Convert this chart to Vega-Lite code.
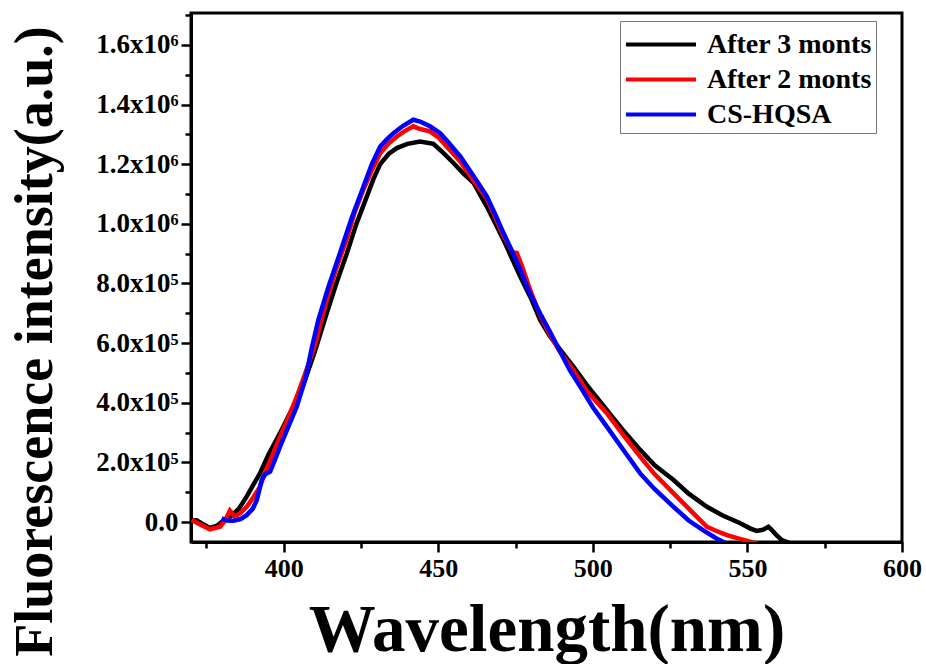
{
  "$schema": "https://vega.github.io/schema/vega-lite/v6.json",
  "width": 711,
  "height": 529,
  "autosize": {"type": "none"},
  "padding": {"left": 191, "top": 13, "right": 24, "bottom": 122},
  "background": "white",
  "config": {
    "view": {"stroke": "black", "strokeWidth": 3},
    "font": "Liberation Serif"
  },
  "data": {
    "values": [
      {"s": "After 3 monts", "x": 370.3, "y": 5000},
      {"s": "After 3 monts", "x": 371.8, "y": 6000},
      {"s": "After 3 monts", "x": 373.5, "y": -5000},
      {"s": "After 3 monts", "x": 376, "y": -20000},
      {"s": "After 3 monts", "x": 378.5, "y": -12000},
      {"s": "After 3 monts", "x": 380.5, "y": 5000},
      {"s": "After 3 monts", "x": 383, "y": 20000},
      {"s": "After 3 monts", "x": 385.5, "y": 45000},
      {"s": "After 3 monts", "x": 388, "y": 85000},
      {"s": "After 3 monts", "x": 390, "y": 122000},
      {"s": "After 3 monts", "x": 392.3, "y": 163000},
      {"s": "After 3 monts", "x": 395, "y": 225000},
      {"s": "After 3 monts", "x": 398.8, "y": 298000},
      {"s": "After 3 monts", "x": 401.5, "y": 355000},
      {"s": "After 3 monts", "x": 404.2, "y": 409000},
      {"s": "After 3 monts", "x": 407, "y": 480000},
      {"s": "After 3 monts", "x": 410, "y": 570000},
      {"s": "After 3 monts", "x": 413.9, "y": 700000},
      {"s": "After 3 monts", "x": 417, "y": 800000},
      {"s": "After 3 monts", "x": 420.4, "y": 900000},
      {"s": "After 3 monts", "x": 423.5, "y": 1000000},
      {"s": "After 3 monts", "x": 426.9, "y": 1092000},
      {"s": "After 3 monts", "x": 429, "y": 1150000},
      {"s": "After 3 monts", "x": 431.2, "y": 1200000},
      {"s": "After 3 monts", "x": 434, "y": 1235000},
      {"s": "After 3 monts", "x": 436.6, "y": 1254000},
      {"s": "After 3 monts", "x": 440, "y": 1268000},
      {"s": "After 3 monts", "x": 444.1, "y": 1276000},
      {"s": "After 3 monts", "x": 448.4, "y": 1268000},
      {"s": "After 3 monts", "x": 451.7, "y": 1237000},
      {"s": "After 3 monts", "x": 454.9, "y": 1204000},
      {"s": "After 3 monts", "x": 458, "y": 1170000},
      {"s": "After 3 monts", "x": 461.4, "y": 1137000},
      {"s": "After 3 monts", "x": 465.7, "y": 1058000},
      {"s": "After 3 monts", "x": 468.5, "y": 1000000},
      {"s": "After 3 monts", "x": 471.1, "y": 946000},
      {"s": "After 3 monts", "x": 474, "y": 880000},
      {"s": "After 3 monts", "x": 476.5, "y": 823000},
      {"s": "After 3 monts", "x": 480, "y": 750000},
      {"s": "After 3 monts", "x": 482.9, "y": 678000},
      {"s": "After 3 monts", "x": 486, "y": 625000},
      {"s": "After 3 monts", "x": 489.4, "y": 578000},
      {"s": "After 3 monts", "x": 493.7, "y": 521000},
      {"s": "After 3 monts", "x": 498, "y": 460000},
      {"s": "After 3 monts", "x": 504.5, "y": 376000},
      {"s": "After 3 monts", "x": 510, "y": 305000},
      {"s": "After 3 monts", "x": 515.3, "y": 242000},
      {"s": "After 3 monts", "x": 520, "y": 190000},
      {"s": "After 3 monts", "x": 526.1, "y": 141000},
      {"s": "After 3 monts", "x": 531, "y": 95000},
      {"s": "After 3 monts", "x": 536.9, "y": 51000},
      {"s": "After 3 monts", "x": 542, "y": 22000},
      {"s": "After 3 monts", "x": 547.7, "y": -4000},
      {"s": "After 3 monts", "x": 551, "y": -22000},
      {"s": "After 3 monts", "x": 553, "y": -30000},
      {"s": "After 3 monts", "x": 555, "y": -26000},
      {"s": "After 3 monts", "x": 556.8, "y": -16000},
      {"s": "After 3 monts", "x": 558, "y": -28000},
      {"s": "After 3 monts", "x": 559.5, "y": -45000},
      {"s": "After 3 monts", "x": 561, "y": -60000},
      {"s": "After 3 monts", "x": 563, "y": -68000},
      {"s": "After 3 monts", "x": 566, "y": -78000},

      {"s": "After 2 monts", "x": 370.2, "y": 6700},
      {"s": "After 2 monts", "x": 373, "y": -8000},
      {"s": "After 2 monts", "x": 376.1, "y": -24500},
      {"s": "After 2 monts", "x": 379.4, "y": -15700},
      {"s": "After 2 monts", "x": 381, "y": 5000},
      {"s": "After 2 monts", "x": 382.6, "y": 38000},
      {"s": "After 2 monts", "x": 384.2, "y": 18000},
      {"s": "After 2 monts", "x": 386, "y": 30000},
      {"s": "After 2 monts", "x": 388, "y": 51000},
      {"s": "After 2 monts", "x": 390, "y": 80000},
      {"s": "After 2 monts", "x": 392.3, "y": 118000},
      {"s": "After 2 monts", "x": 393.4, "y": 152000},
      {"s": "After 2 monts", "x": 396, "y": 215000},
      {"s": "After 2 monts", "x": 398.8, "y": 286000},
      {"s": "After 2 monts", "x": 401.5, "y": 350000},
      {"s": "After 2 monts", "x": 404.2, "y": 420000},
      {"s": "After 2 monts", "x": 407, "y": 500000},
      {"s": "After 2 monts", "x": 410, "y": 590000},
      {"s": "After 2 monts", "x": 413.9, "y": 745000},
      {"s": "After 2 monts", "x": 417, "y": 850000},
      {"s": "After 2 monts", "x": 420.4, "y": 950000},
      {"s": "After 2 monts", "x": 423, "y": 1040000},
      {"s": "After 2 monts", "x": 425.8, "y": 1115000},
      {"s": "After 2 monts", "x": 428.5, "y": 1180000},
      {"s": "After 2 monts", "x": 431.2, "y": 1237000},
      {"s": "After 2 monts", "x": 434, "y": 1270000},
      {"s": "After 2 monts", "x": 436.6, "y": 1293000},
      {"s": "After 2 monts", "x": 439, "y": 1310000},
      {"s": "After 2 monts", "x": 441.9, "y": 1327000},
      {"s": "After 2 monts", "x": 444.1, "y": 1318000},
      {"s": "After 2 monts", "x": 447.3, "y": 1310000},
      {"s": "After 2 monts", "x": 450, "y": 1290000},
      {"s": "After 2 monts", "x": 452.7, "y": 1259000},
      {"s": "After 2 monts", "x": 457.1, "y": 1209000},
      {"s": "After 2 monts", "x": 461.4, "y": 1145000},
      {"s": "After 2 monts", "x": 465.7, "y": 1085000},
      {"s": "After 2 monts", "x": 471.1, "y": 960000},
      {"s": "After 2 monts", "x": 474, "y": 905000},
      {"s": "After 2 monts", "x": 475.4, "y": 902000},
      {"s": "After 2 monts", "x": 477, "y": 860000},
      {"s": "After 2 monts", "x": 480, "y": 770000},
      {"s": "After 2 monts", "x": 482.9, "y": 695000},
      {"s": "After 2 monts", "x": 486, "y": 630000},
      {"s": "After 2 monts", "x": 489.4, "y": 570000},
      {"s": "After 2 monts", "x": 493.7, "y": 510000},
      {"s": "After 2 monts", "x": 498, "y": 440000},
      {"s": "After 2 monts", "x": 504.5, "y": 365000},
      {"s": "After 2 monts", "x": 510, "y": 290000},
      {"s": "After 2 monts", "x": 515.3, "y": 219000},
      {"s": "After 2 monts", "x": 520, "y": 160000},
      {"s": "After 2 monts", "x": 526.1, "y": 96000},
      {"s": "After 2 monts", "x": 531, "y": 45000},
      {"s": "After 2 monts", "x": 536.9, "y": -16000},
      {"s": "After 2 monts", "x": 540, "y": -30000},
      {"s": "After 2 monts", "x": 543.4, "y": -44000},
      {"s": "After 2 monts", "x": 547, "y": -55000},
      {"s": "After 2 monts", "x": 550, "y": -63000},
      {"s": "After 2 monts", "x": 554, "y": -75000},

      {"s": "CS-HQSA", "x": 379.9, "y": 12000},
      {"s": "CS-HQSA", "x": 381.5, "y": 5000},
      {"s": "CS-HQSA", "x": 383.7, "y": 4000},
      {"s": "CS-HQSA", "x": 386, "y": 10000},
      {"s": "CS-HQSA", "x": 388, "y": 23000},
      {"s": "CS-HQSA", "x": 390, "y": 45000},
      {"s": "CS-HQSA", "x": 391.3, "y": 74000},
      {"s": "CS-HQSA", "x": 392.9, "y": 141000},
      {"s": "CS-HQSA", "x": 394, "y": 160000},
      {"s": "CS-HQSA", "x": 395.6, "y": 169000},
      {"s": "CS-HQSA", "x": 397, "y": 205000},
      {"s": "CS-HQSA", "x": 398.8, "y": 253000},
      {"s": "CS-HQSA", "x": 401.5, "y": 320000},
      {"s": "CS-HQSA", "x": 404.2, "y": 387000},
      {"s": "CS-HQSA", "x": 407, "y": 480000},
      {"s": "CS-HQSA", "x": 409, "y": 580000},
      {"s": "CS-HQSA", "x": 411.2, "y": 678000},
      {"s": "CS-HQSA", "x": 414.5, "y": 790000},
      {"s": "CS-HQSA", "x": 418.2, "y": 902000},
      {"s": "CS-HQSA", "x": 422, "y": 1020000},
      {"s": "CS-HQSA", "x": 425.8, "y": 1125000},
      {"s": "CS-HQSA", "x": 428.5, "y": 1200000},
      {"s": "CS-HQSA", "x": 431.2, "y": 1259000},
      {"s": "CS-HQSA", "x": 433.5, "y": 1285000},
      {"s": "CS-HQSA", "x": 435.5, "y": 1304000},
      {"s": "CS-HQSA", "x": 438.5, "y": 1328000},
      {"s": "CS-HQSA", "x": 441.9, "y": 1349000},
      {"s": "CS-HQSA", "x": 444.1, "y": 1343000},
      {"s": "CS-HQSA", "x": 447.3, "y": 1327000},
      {"s": "CS-HQSA", "x": 450.6, "y": 1304000},
      {"s": "CS-HQSA", "x": 453.5, "y": 1270000},
      {"s": "CS-HQSA", "x": 457.1, "y": 1226000},
      {"s": "CS-HQSA", "x": 461.4, "y": 1160000},
      {"s": "CS-HQSA", "x": 465.7, "y": 1092000},
      {"s": "CS-HQSA", "x": 468.5, "y": 1030000},
      {"s": "CS-HQSA", "x": 471.1, "y": 969000},
      {"s": "CS-HQSA", "x": 474, "y": 905000},
      {"s": "CS-HQSA", "x": 476.5, "y": 846000},
      {"s": "CS-HQSA", "x": 479.5, "y": 770000},
      {"s": "CS-HQSA", "x": 482.9, "y": 700000},
      {"s": "CS-HQSA", "x": 486, "y": 640000},
      {"s": "CS-HQSA", "x": 489.4, "y": 572000},
      {"s": "CS-HQSA", "x": 492.5, "y": 510000},
      {"s": "CS-HQSA", "x": 495.9, "y": 454000},
      {"s": "CS-HQSA", "x": 500, "y": 385000},
      {"s": "CS-HQSA", "x": 504.5, "y": 320000},
      {"s": "CS-HQSA", "x": 510, "y": 240000},
      {"s": "CS-HQSA", "x": 515.3, "y": 163000},
      {"s": "CS-HQSA", "x": 520, "y": 110000},
      {"s": "CS-HQSA", "x": 526.1, "y": 51000},
      {"s": "CS-HQSA", "x": 531, "y": 5000},
      {"s": "CS-HQSA", "x": 536, "y": -30000},
      {"s": "CS-HQSA", "x": 540, "y": -55000},
      {"s": "CS-HQSA", "x": 544, "y": -76000}
    ]
  },
  "mark": {"type": "line", "strokeWidth": 4.5, "clip": true, "interpolate": "linear"},
  "encoding": {
    "x": {
      "field": "x",
      "type": "quantitative",
      "scale": {"domain": [370, 600], "nice": false, "zero": false},
      "axis": {
        "title": "Wavelength(nm)",
        "titleFont": "Liberation Serif",
        "titleFontWeight": "bold",
        "titleFontSize": 67,
        "titleColor": "black",
        "titleBaseline": "middle",
        "titleY": 88,
        "values": [375, 400, 425, 450, 475, 500, 525, 550, 575, 600],
        "labelExpr": "datum.value % 50 === 0 ? datum.label : ''",
        "labelFont": "Liberation Serif",
        "labelFontWeight": "bold",
        "labelFontSize": 26,
        "labelColor": "black",
        "labelPadding": 3,
        "labelFlush": false,
        "labelOverlap": false,
        "grid": false,
        "domainColor": "black",
        "domainWidth": 3,
        "tickColor": "black",
        "tickWidth": 2.5,
        "tickSize": {"condition": {"test": "datum.value % 50 === 0", "value": 10}, "value": 6}
      }
    },
    "y": {
      "field": "y",
      "type": "quantitative",
      "scale": {"domain": [-67000, 1707000], "nice": false, "zero": false},
      "axis": {
        "title": "Fluorescence intensity(a.u.)",
        "titleFont": "Liberation Serif",
        "titleFontWeight": "bold",
        "titleFontSize": 54,
        "titleColor": "black",
        "titleAngle": -90,
        "titleBaseline": "middle",
        "titleX": -156,
        "titleY": 328,
        "values": [0, 100000, 200000, 300000, 400000, 500000, 600000, 700000, 800000, 900000, 1000000, 1100000, 1200000, 1300000, 1400000, 1500000, 1600000, 1700000],
        "labelExpr": "datum.value % 200000 !== 0 ? '' : datum.value === 0 ? '0.0' : datum.value >= 1000000 ? format(datum.value / 1000000, '.1f') + 'x10⁶' : format(datum.value / 100000, '.1f') + 'x10⁵'",
        "labelFont": "Liberation Serif",
        "labelFontWeight": "bold",
        "labelFontSize": 27,
        "labelColor": "black",
        "labelPadding": 3,
        "labelOverlap": false,
        "labelFlush": false,
        "grid": false,
        "domainColor": "black",
        "domainWidth": 3,
        "tickColor": "black",
        "tickWidth": 2.5,
        "tickSize": {"condition": {"test": "datum.value % 200000 === 0", "value": 10}, "value": 6}
      }
    },
    "color": {
      "field": "s",
      "type": "nominal",
      "scale": {"domain": ["After 3 monts", "After 2 monts", "CS-HQSA"], "range": ["#000000", "#ff0000", "#0000ff"]},
      "legend": {
        "title": null,
        "orient": "none",
        "legendX": 429,
        "legendY": 8,
        "strokeColor": "#777777",
        "fillColor": "white",
        "padding": 4,
        "rowPadding": 1,
        "symbolType": "M-1,0H3",
        "symbolSize": 1225,
        "symbolStrokeWidth": 4,
        "labelFont": "Liberation Serif",
        "labelFontWeight": "bold",
        "labelFontSize": 28,
        "labelLimit": 400,
        "labelColor": "black",
        "labelOffset": 44
      }
    }
  }
}
